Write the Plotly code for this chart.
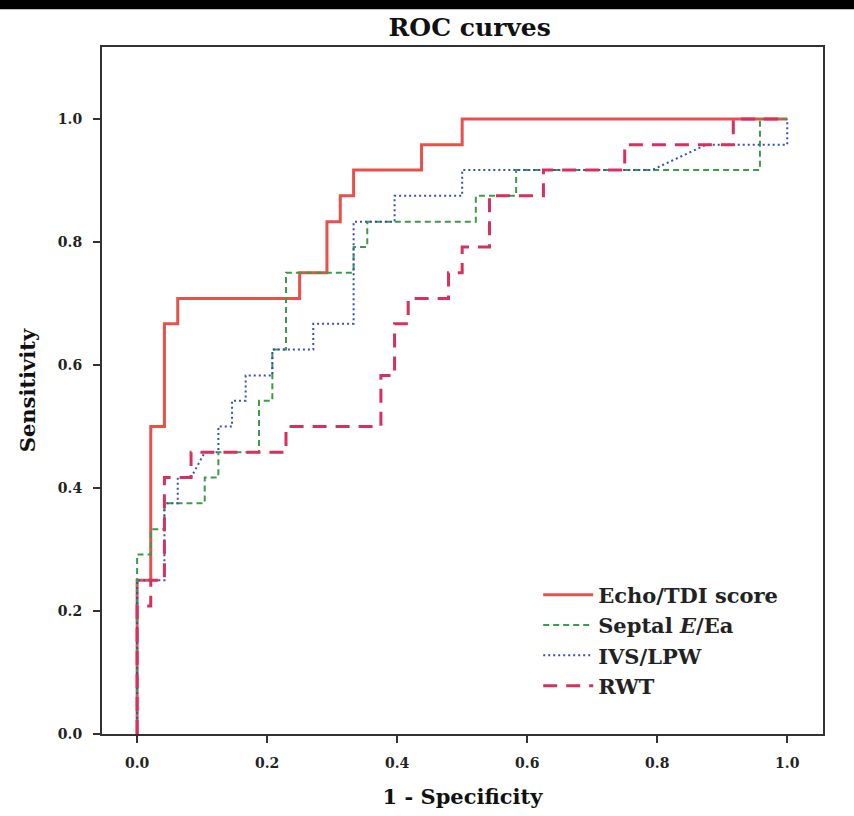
import plotly.graph_objects as go

# ROC curve corner points (1 - specificity, sensitivity)
echo_x = [0, 0, 0.021, 0.021, 0.042, 0.042, 0.0625, 0.0625, 0.25, 0.25, 0.292, 0.292,
          0.3125, 0.3125, 0.333, 0.333, 0.4375, 0.4375, 0.5, 0.5, 1]
echo_y = [0, 0.25, 0.25, 0.5, 0.5, 0.667, 0.667, 0.708, 0.708, 0.75, 0.75, 0.833,
          0.833, 0.875, 0.875, 0.917, 0.917, 0.958, 0.958, 1, 1]

septal_x = [0, 0, 0.021, 0.021, 0.042, 0.042, 0.104, 0.104, 0.125, 0.125, 0.1875, 0.1875,
            0.208, 0.208, 0.229, 0.229, 0.333, 0.333, 0.354, 0.354, 0.521, 0.521,
            0.583, 0.583, 0.958, 0.958, 1]
septal_y = [0, 0.292, 0.292, 0.333, 0.333, 0.375, 0.375, 0.417, 0.417, 0.458, 0.458, 0.542,
            0.542, 0.625, 0.625, 0.75, 0.75, 0.792, 0.792, 0.833, 0.833, 0.875,
            0.875, 0.917, 0.917, 1, 1]

ivs_x = [0, 0, 0.042, 0.042, 0.0625, 0.0625, 0.083, 0.104, 0.125, 0.125, 0.146, 0.146,
         0.167, 0.167, 0.208, 0.208, 0.271, 0.271, 0.333, 0.333, 0.396, 0.396,
         0.5, 0.5, 0.792, 0.875, 1, 1]
ivs_y = [0, 0.25, 0.25, 0.375, 0.375, 0.417, 0.417, 0.458, 0.458, 0.5, 0.5, 0.542,
         0.542, 0.583, 0.583, 0.625, 0.625, 0.667, 0.667, 0.833, 0.833, 0.875,
         0.875, 0.917, 0.917, 0.958, 0.958, 1]

rwt_x = [0, 0, 0.021, 0.021, 0.042, 0.042, 0.083, 0.083, 0.229, 0.229, 0.375, 0.375,
         0.396, 0.396, 0.417, 0.417, 0.479, 0.479, 0.5, 0.5, 0.542, 0.542,
         0.625, 0.625, 0.75, 0.75, 0.917, 0.917, 1]
rwt_y = [0, 0.208, 0.208, 0.25, 0.25, 0.417, 0.417, 0.458, 0.458, 0.5, 0.5, 0.583,
         0.583, 0.667, 0.667, 0.708, 0.708, 0.75, 0.75, 0.792, 0.792, 0.875,
         0.875, 0.917, 0.917, 0.958, 0.958, 1, 1]

names = ["Echo/TDI score", "Septal <i>E</i>/Ea", "IVS/LPW", "RWT"]
tick_vals = [0.0, 0.2, 0.4, 0.6, 0.8, 1.0]
tick_text = ["0.0", "0.2", "0.4", "0.6", "0.8", "1.0"]

SERIF = "DejaVu Serif, Liberation Serif, serif"

fig = go.Figure()
fig.add_trace(go.Scatter(x=echo_x, y=echo_y, mode="lines", name=names[0],
                         line=dict(color="#e8504c", width=3, dash="solid")))
fig.add_trace(go.Scatter(x=septal_x, y=septal_y, mode="lines", name=names[1],
                         line=dict(color="#3c9c46", width=2, dash="6px,4px")))
fig.add_trace(go.Scatter(x=ivs_x, y=ivs_y, mode="lines", name=names[2],
                         line=dict(color="#3550b8", width=2, dash="2px,3px")))
fig.add_trace(go.Scatter(x=rwt_x, y=rwt_y, mode="lines", name=names[3],
                         line=dict(color="#d8305e", width=3, dash="14px,9px")))

fig.update_layout(
    width=854, height=816,
    paper_bgcolor="white", plot_bgcolor="white",
    margin=dict(l=102, r=31, t=47, b=82, autoexpand=False),
    title=dict(text="ROC curves", x=0.55, xanchor="center", y=0.966, yanchor="middle",
               font=dict(family=SERIF, size=25, color="#111", weight="bold")),
    font=dict(family=SERIF, color="#222"),
    showlegend=True,
    legend=dict(x=0.605, xanchor="left", y=0.232, yanchor="top",
                bgcolor="rgba(255,255,255,0)", borderwidth=0,
                font=dict(family=SERIF, size=21, color="#222", weight="bold"),
                itemwidth=50, tracegroupgap=0),
    shapes=[dict(type="rect", xref="paper", yref="paper", x0=-0.2, x1=1.2,
                 y0=1.055, y1=1.2, fillcolor="black", line=dict(width=0), layer="above")],
)
fig.update_xaxes(range=[-0.054, 1.055], tickvals=tick_vals, ticktext=tick_text,
                 automargin=False,
                 showgrid=False, zeroline=False, showline=True, mirror=True,
                 linecolor="#333", linewidth=2, ticks="outside", ticklen=7,
                 tickcolor="#333", tickwidth=1.5, ticklabelstandoff=8,
                 tickfont=dict(family=SERIF, size=14, color="#222", weight="bold"),
                 title=dict(text="1 - Specificity", standoff=20,
                            font=dict(family=SERIF, size=21, color="#111", weight="bold")))
fig.update_yaxes(range=[0, 1.117], tickvals=tick_vals, ticktext=tick_text,
                 automargin=False,
                 showgrid=False, zeroline=False, showline=True, mirror=True,
                 linecolor="#333", linewidth=2, ticks="outside", ticklen=7,
                 tickcolor="#333", tickwidth=1.5, ticklabelstandoff=8,
                 tickfont=dict(family=SERIF, size=14, color="#222", weight="bold"),
                 title=dict(text="Sensitivity", standoff=16,
                            font=dict(family=SERIF, size=21, color="#111", weight="bold")))

fig.write_html("out.html", config={"displayModeBar": False},
               post_script="document.body.style.margin='0';")
